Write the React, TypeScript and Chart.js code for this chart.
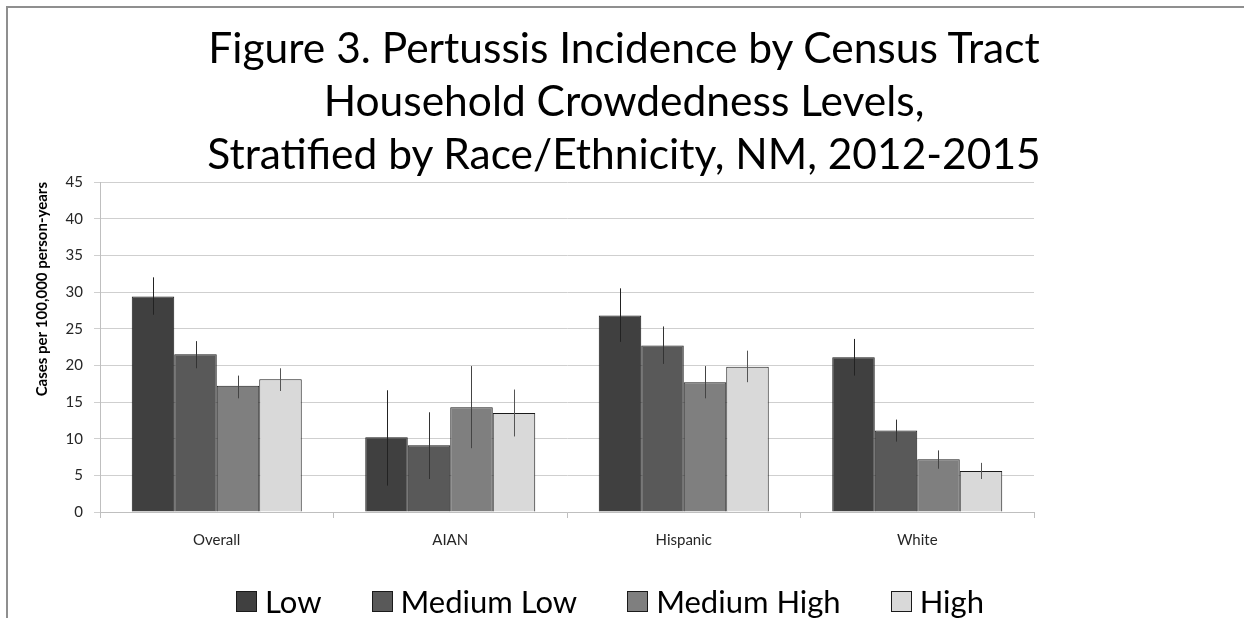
import React, { useEffect, useRef } from "react";
import { Chart, registerables } from "chart.js";

Chart.register(...registerables);

// Race/ethnicity groups along the x axis
const categories = ["Overall", "AIAN", "Hispanic", "White"];

// Household crowdedness levels (series)
const levelNames = ["Low", "Medium Low", "Medium High", "High"];

// Incidence, cases per 100,000 person-years
const lowValues = [29.4, 10.2, 26.8, 21.1];
const mediumLowValues = [21.5, 9.1, 22.7, 11.1];
const mediumHighValues = [17.2, 14.3, 17.7, 7.2];
const highValues = [18.1, 13.5, 19.8, 5.6];

// 95% confidence limits
const lowLower = [26.9, 3.6, 23.2, 18.6];
const lowUpper = [32.0, 16.6, 30.5, 23.6];
const mediumLowLower = [19.6, 4.5, 20.2, 9.6];
const mediumLowUpper = [23.3, 13.6, 25.3, 12.6];
const mediumHighLower = [15.5, 8.7, 15.5, 5.9];
const mediumHighUpper = [18.6, 19.9, 19.9, 8.4];
const highLower = [16.5, 10.3, 17.7, 4.5];
const highUpper = [19.6, 16.7, 22.0, 6.7];

// Y axis ticks
const yTicks = [0, 5, 10, 15, 20, 25, 30, 35, 40, 45];

const titleLines = [
  "Figure 3. Pertussis Incidence by Census Tract",
  "Household Crowdedness Levels,",
  "Stratified by Race/Ethnicity, NM, 2012-2015",
];
const yAxisTitle = "Cases per 100,000 person-years";

const fillColors = ["#404040", "#595959", "#7f7f7f", "#d9d9d9"];
const errColors = ["#222222", "#333333", "#444444", "#555555"];
const seriesValues = [lowValues, mediumLowValues, mediumHighValues, highValues];
const seriesLower = [lowLower, mediumLowLower, mediumHighLower, highLower];
const seriesUpper = [lowUpper, mediumLowUpper, mediumHighUpper, highUpper];

const FONT = "Lato, 'Open Sans', sans-serif";

// Draws vertical confidence-interval whiskers (no caps) over each bar
const errorBarPlugin = {
  id: "errorBars",
  afterDatasetsDraw(chart: any) {
    const ctx = chart.ctx;
    const yScale = chart.scales.y;
    ctx.save();
    chart.data.datasets.forEach((ds: any, di: number) => {
      const meta = chart.getDatasetMeta(di);
      if (meta.hidden) return;
      meta.data.forEach((bar: any, i: number) => {
        const x = Math.round(bar.x) + 0.5;
        ctx.beginPath();
        ctx.strokeStyle = ds.errColor;
        ctx.lineWidth = 1;
        ctx.moveTo(x, yScale.getPixelForValue(ds.errUpper[i]));
        ctx.lineTo(x, yScale.getPixelForValue(ds.errLower[i]));
        ctx.stroke();
      });
    });
    ctx.restore();
  },
};

export default function App() {
  const canvasRef = useRef<HTMLCanvasElement | null>(null);

  useEffect(() => {
    if (!canvasRef.current) return;
    const chart = new Chart(canvasRef.current, {
      type: "bar",
      data: {
        labels: categories,
        datasets: levelNames.map((name, k) => ({
          label: name,
          data: seriesValues[k],
          backgroundColor: fillColors[k],
          borderColor: "#1a1a1a",
          borderWidth: 1,
          categoryPercentage: 0.728,
          barPercentage: 1,
          errLower: seriesLower[k],
          errUpper: seriesUpper[k],
          errColor: errColors[k],
        })) as any,
      },
      options: {
        responsive: false,
        animation: false,
        devicePixelRatio: 1,
        layout: { padding: { left: 33, right: 210, top: 182, bottom: 66 } },
        plugins: {
          title: { display: false },
          legend: { display: false },
          tooltip: { enabled: false },
        },
        scales: {
          x: {
            afterFit(scale: any) {
              scale.height = 40;
            },
            grid: {
              display: true,
              drawOnChartArea: false,
              drawTicks: true,
              tickLength: 6,
              color: "#bfbfbf",
              offset: true,
            },
            border: { color: "#bfbfbf" },
            ticks: {
              color: "#262626",
              font: { family: FONT, size: 15 },
              padding: 13,
            },
          },
          y: {
            min: 0,
            max: 45,
            afterBuildTicks(scale: any) {
              scale.ticks = yTicks.map((v) => ({ value: v }));
            },
            afterFit(scale: any) {
              scale.width = 67;
            },
            grid: {
              color: "#cfcfcf",
              tickLength: 6,
            },
            border: { color: "#bfbfbf" },
            ticks: {
              color: "#262626",
              font: { family: FONT, size: 15 },
              padding: 11,
            },
            title: {
              display: true,
              text: yAxisTitle,
              color: "#000000",
              align: "end",
              font: { family: FONT, size: 15, weight: "bold" },
              padding: { top: 0, bottom: 0 },
            },
          },
        },
      },
      plugins: [errorBarPlugin],
    });
    return () => chart.destroy();
  }, []);

  return (
    <div style={{ position: "fixed", left: 0, top: 0, width: 1244, height: 618, background: "#ffffff", overflow: "hidden" }}>
      <div
        style={{
          position: "absolute",
          left: 6,
          top: 6,
          right: -10,
          bottom: -10,
          borderTop: "2px solid #8f8f8f",
          borderLeft: "2px solid #8f8f8f",
        }}
      />
      <canvas
        ref={canvasRef}
        width={1244}
        height={618}
        style={{ position: "absolute", left: 0, top: 0 }}
      />
      <div
        style={{
          position: "absolute",
          left: 124,
          width: 1000,
          top: 20,
          textAlign: "center",
          fontFamily: FONT,
          fontSize: 42.5,
          lineHeight: "53px",
          color: "#000000",
        }}
      >
        {titleLines.map((line) => (
          <div key={line}>{line}</div>
        ))}
      </div>
      <div
        style={{
          position: "absolute",
          left: 110,
          width: 1000,
          top: 583,
          display: "flex",
          justifyContent: "center",
          alignItems: "center",
          gap: 50,
          fontFamily: FONT,
          fontSize: 31,
          lineHeight: "36px",
          color: "#000000",
        }}
      >
        {levelNames.map((name, k) => (
          <div key={name} style={{ display: "flex", alignItems: "center", gap: 8 }}>
            <span
              style={{
                display: "inline-block",
                width: 19,
                height: 19,
                background: fillColors[k],
                border: "1px solid #1a1a1a",
              }}
            />
            <span>{name}</span>
          </div>
        ))}
      </div>
    </div>
  );
}
